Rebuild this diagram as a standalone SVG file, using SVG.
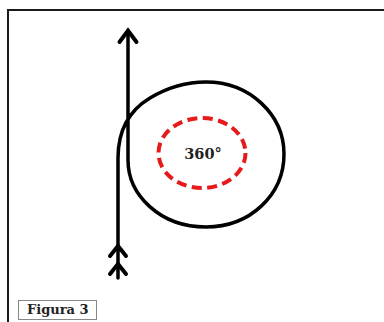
<svg xmlns="http://www.w3.org/2000/svg" width="384" height="322" viewBox="0 0 384 322">
<style>
.frame{fill:none;stroke:#1a1a1a;stroke-width:2}
.path{fill:none;stroke:#000;stroke-width:3.5;stroke-linecap:round;stroke-linejoin:round}
.head{fill:none;stroke:#000;stroke-width:4;stroke-linecap:round;stroke-linejoin:miter}
.dash{fill:none;stroke:#e61a1a;stroke-width:4;stroke-dasharray:10 5.5}
.lbl{font-family:"DejaVu Serif","Liberation Serif",serif;font-weight:bold;fill:#222}
</style>
<rect width="384" height="322" fill="#fff"/>
<path class="frame" d="M8,322 L8,10 L384,10"/>
<g id="connectors">
<path class="path" d="M118,278 L118,158 C118,130 130,110 150,98 C170,86 190,82 206,82 C250,82 284,115 284,154 C284,195 250,227 206,227 C160,227 128,195 128,160 L128,31"/>
<path class="head" d="M119.5,42 L128,30.5 L136.5,42"/>
<path class="head" d="M110,256 L118,246 L126,256 M110,274 L118,264 L126,274"/>
</g>
<g id="angle">
<ellipse class="dash" cx="202" cy="153" rx="43.5" ry="35"/>
<text class="lbl" x="203" y="159" font-size="14.5" text-anchor="middle">360°</text>
</g>
<g id="caption">
<rect x="18.5" y="300.5" width="78" height="19" fill="#fff" stroke="#888" stroke-width="1"/>
<text class="lbl" x="27" y="314" font-size="13">Figura 3</text>
</g>
</svg>
